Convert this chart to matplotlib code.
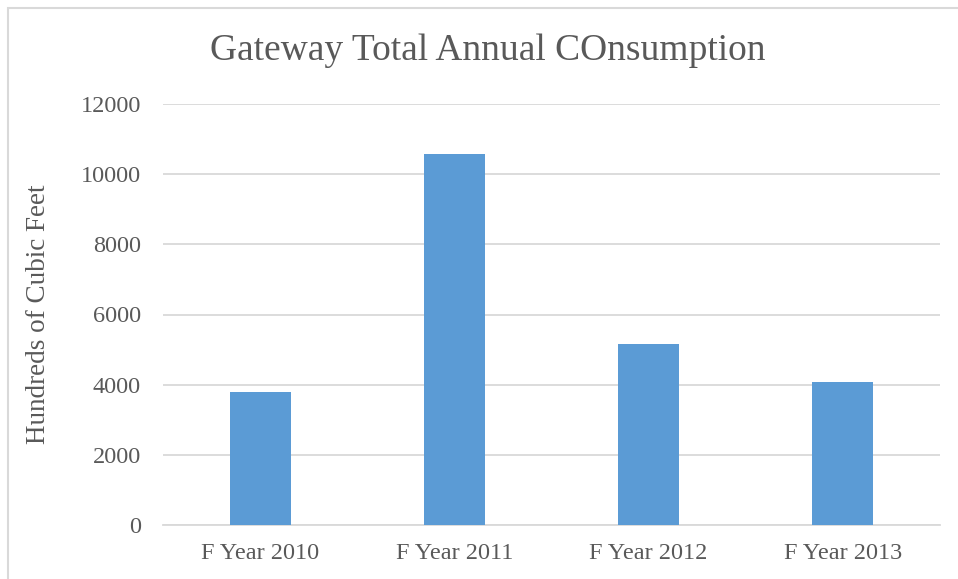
import matplotlib
matplotlib.use("Agg")
import matplotlib.pyplot as plt
from matplotlib.patches import Rectangle

categories = ["F Year 2010", "F Year 2011", "F Year 2012", "F Year 2013"]
values = [3780, 10580, 5170, 4080]
yticks = [0, 2000, 4000, 6000, 8000, 10000, 12000]

W, H = 958, 579
fig = plt.figure(figsize=(W / 100, H / 100), dpi=100)
plt.rcParams['font.family'] = ['Liberation Serif', 'DejaVu Serif']

# chart border (top and left visible)
fig.patches.append(Rectangle((8 / W, -0.1), 1.2, 1 - 8 / H + 0.1, transform=fig.transFigure,
                             fill=False, edgecolor="#D9D9D9", linewidth=1.5))

ax = fig.add_axes([163 / W, 1 - 525 / H, (940 - 163) / W, (525 - 104) / H])
x = range(len(categories))
ax.bar(x, values, width=0.313, color="#5B9BD5", zorder=3)
ax.set_xlim(-0.5, 3.5)
ax.set_ylim(0, 12000)
ax.set_yticks(yticks)
ax.set_yticklabels([str(v) for v in yticks])
ax.set_xticks(list(x))
ax.set_xticklabels(categories)
ax.yaxis.grid(True, color="#D9D9D9", linewidth=1.3, zorder=0)
for s in ["top", "right", "left"]:
    ax.spines[s].set_visible(False)
ax.spines["bottom"].set_color("#D9D9D9")
ax.spines["bottom"].set_linewidth(1.3)
ax.tick_params(axis="both", length=0, labelsize=17.5, colors="#595959")
ax.tick_params(axis="y", pad=16)
ax.tick_params(axis="x", pad=13)
ax.set_ylabel("Hundreds of Cubic Feet", fontsize=19.5, color="#595959", labelpad=21)
fig.text(488 / W, 1 - 51 / H, "Gateway Total Annual COnsumption", ha="center", va="center",
         fontsize=27, color="#595959")

fig.savefig("out.png", dpi=100)
